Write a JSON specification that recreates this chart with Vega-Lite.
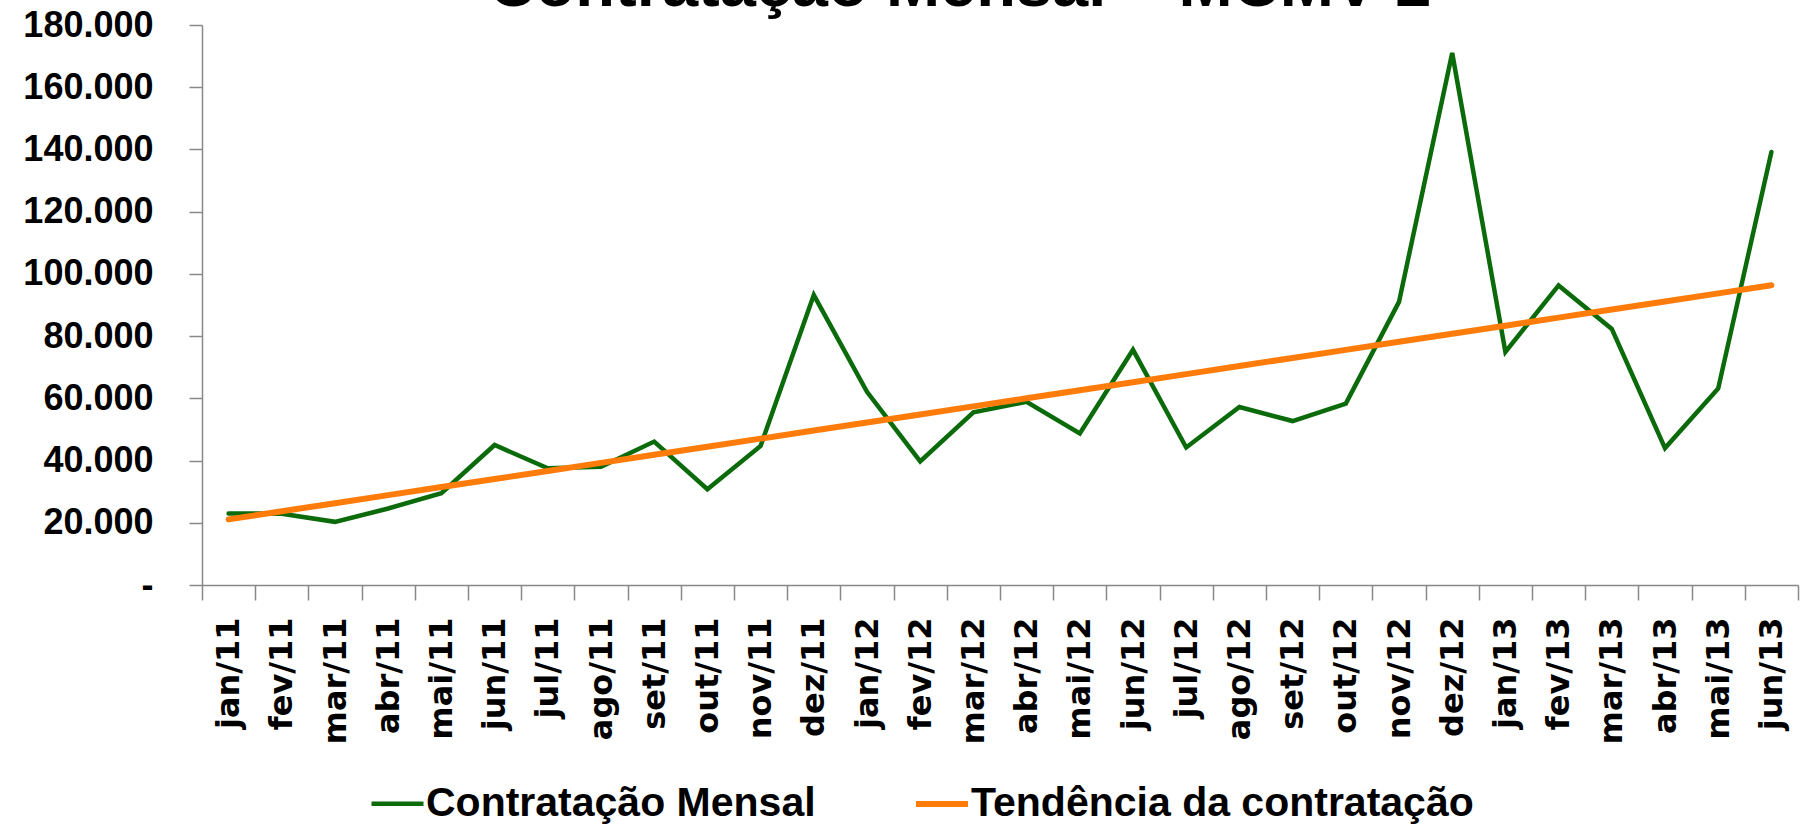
{
  "$schema": "https://vega.github.io/schema/vega-lite/v6.json",
  "width": 1596,
  "height": 560,
  "autosize": {"type": "none"},
  "padding": {"left": 202, "top": 25, "right": 10, "bottom": 244},
  "background": "white",
  "title": {
    "text": "Contratação Mensal – MCMV 2",
    "font": "Liberation Sans",
    "fontSize": 65,
    "fontWeight": "bold",
    "color": "black",
    "anchor": "middle",
    "dx": -40,
    "offset": -13
  },
  "config": {
    "view": {"stroke": null},
    "axis": {"grid": false, "domainColor": "#888888", "tickColor": "#888888", "domainWidth": 1.5, "tickWidth": 1.5, "labelColor": "black", "title": null}
  },
  "data": {
    "values": [
      {"month": "jan/11", "series": "Contratação Mensal", "value": 23000},
      {"month": "fev/11", "series": "Contratação Mensal", "value": 22900},
      {"month": "mar/11", "series": "Contratação Mensal", "value": 20300},
      {"month": "abr/11", "series": "Contratação Mensal", "value": 24600},
      {"month": "mai/11", "series": "Contratação Mensal", "value": 29500},
      {"month": "jun/11", "series": "Contratação Mensal", "value": 45000},
      {"month": "jul/11", "series": "Contratação Mensal", "value": 37500},
      {"month": "ago/11", "series": "Contratação Mensal", "value": 38000},
      {"month": "set/11", "series": "Contratação Mensal", "value": 46100},
      {"month": "out/11", "series": "Contratação Mensal", "value": 30800},
      {"month": "nov/11", "series": "Contratação Mensal", "value": 44700},
      {"month": "dez/11", "series": "Contratação Mensal", "value": 93200},
      {"month": "jan/12", "series": "Contratação Mensal", "value": 62100},
      {"month": "fev/12", "series": "Contratação Mensal", "value": 39700},
      {"month": "mar/12", "series": "Contratação Mensal", "value": 55500},
      {"month": "abr/12", "series": "Contratação Mensal", "value": 58900},
      {"month": "mai/12", "series": "Contratação Mensal", "value": 48700},
      {"month": "jun/12", "series": "Contratação Mensal", "value": 75600},
      {"month": "jul/12", "series": "Contratação Mensal", "value": 44200},
      {"month": "ago/12", "series": "Contratação Mensal", "value": 57200},
      {"month": "set/12", "series": "Contratação Mensal", "value": 52700},
      {"month": "out/12", "series": "Contratação Mensal", "value": 58300},
      {"month": "nov/12", "series": "Contratação Mensal", "value": 91000},
      {"month": "dez/12", "series": "Contratação Mensal", "value": 171000},
      {"month": "jan/13", "series": "Contratação Mensal", "value": 74900},
      {"month": "fev/13", "series": "Contratação Mensal", "value": 96300},
      {"month": "mar/13", "series": "Contratação Mensal", "value": 82300},
      {"month": "abr/13", "series": "Contratação Mensal", "value": 44000},
      {"month": "mai/13", "series": "Contratação Mensal", "value": 63200},
      {"month": "jun/13", "series": "Contratação Mensal", "value": 139200},
      {"month": "jan/11", "series": "Tendência da contratação", "value": 21100},
      {"month": "fev/11", "series": "Tendência da contratação", "value": 23694},
      {"month": "mar/11", "series": "Tendência da contratação", "value": 26288},
      {"month": "abr/11", "series": "Tendência da contratação", "value": 28882},
      {"month": "mai/11", "series": "Tendência da contratação", "value": 31476},
      {"month": "jun/11", "series": "Tendência da contratação", "value": 34070},
      {"month": "jul/11", "series": "Tendência da contratação", "value": 36664},
      {"month": "ago/11", "series": "Tendência da contratação", "value": 39258},
      {"month": "set/11", "series": "Tendência da contratação", "value": 41852},
      {"month": "out/11", "series": "Tendência da contratação", "value": 44446},
      {"month": "nov/11", "series": "Tendência da contratação", "value": 47040},
      {"month": "dez/11", "series": "Tendência da contratação", "value": 49634},
      {"month": "jan/12", "series": "Tendência da contratação", "value": 52228},
      {"month": "fev/12", "series": "Tendência da contratação", "value": 54822},
      {"month": "mar/12", "series": "Tendência da contratação", "value": 57416},
      {"month": "abr/12", "series": "Tendência da contratação", "value": 60010},
      {"month": "mai/12", "series": "Tendência da contratação", "value": 62604},
      {"month": "jun/12", "series": "Tendência da contratação", "value": 65198},
      {"month": "jul/12", "series": "Tendência da contratação", "value": 67792},
      {"month": "ago/12", "series": "Tendência da contratação", "value": 70386},
      {"month": "set/12", "series": "Tendência da contratação", "value": 72980},
      {"month": "out/12", "series": "Tendência da contratação", "value": 75574},
      {"month": "nov/12", "series": "Tendência da contratação", "value": 78168},
      {"month": "dez/12", "series": "Tendência da contratação", "value": 80762},
      {"month": "jan/13", "series": "Tendência da contratação", "value": 83356},
      {"month": "fev/13", "series": "Tendência da contratação", "value": 85950},
      {"month": "mar/13", "series": "Tendência da contratação", "value": 88544},
      {"month": "abr/13", "series": "Tendência da contratação", "value": 91138},
      {"month": "mai/13", "series": "Tendência da contratação", "value": 93732},
      {"month": "jun/13", "series": "Tendência da contratação", "value": 96326}
    ]
  },
  "mark": {"type": "line", "strokeCap": "round", "strokeJoin": "miter"},
  "encoding": {
    "x": {
      "field": "month",
      "type": "ordinal",
      "sort": null,
      "bandPosition": 0.5,
      "scale": {"type": "band", "paddingInner": 0, "paddingOuter": 0},
      "axis": {
        "labelAngle": -90,
        "labelFont": "DejaVu Sans",
        "labelFontSize": 32,
        "labelFontWeight": "bold",
        "tickBand": "extent",
        "tickSize": 15,
        "labelPadding": 17
      }
    },
    "y": {
      "field": "value",
      "type": "quantitative",
      "scale": {"domain": [0, 180000], "nice": false, "zero": true},
      "axis": {
        "values": [0, 20000, 40000, 60000, 80000, 100000, 120000, 140000, 160000, 180000],
        "labelExpr": "datum.value == 0 ? '-\u00a0\u00a0' : replace(format(datum.value, ','), ',', '.')",
        "labelFont": "Liberation Sans",
        "labelFontSize": 36,
        "labelFontWeight": "bold",
        "tickSize": 13,
        "labelPadding": 36
      }
    },
    "color": {
      "field": "series",
      "type": "nominal",
      "scale": {"domain": ["Contratação Mensal", "Tendência da contratação"], "range": ["#0B6B0B", "#FF7C0A"]},
      "legend": {
        "orient": "none",
        "legendX": 167,
        "legendY": 750,
        "direction": "horizontal",
        "title": null,
        "symbolType": "stroke",
        "symbolSize": 2704,
        "symbolStrokeWidth": 5,
        "labelFont": "Liberation Sans",
        "labelFontSize": 41,
        "labelFontWeight": "bold",
        "labelColor": "black",
        "labelOffset": 0,
        "columnPadding": 88,
        "padding": 0,
        "labelLimit": 0
      }
    },
    "strokeWidth": {
      "field": "series",
      "type": "nominal",
      "scale": {"domain": ["Contratação Mensal", "Tendência da contratação"], "range": [4.5, 6]},
      "legend": null
    }
  }
}
